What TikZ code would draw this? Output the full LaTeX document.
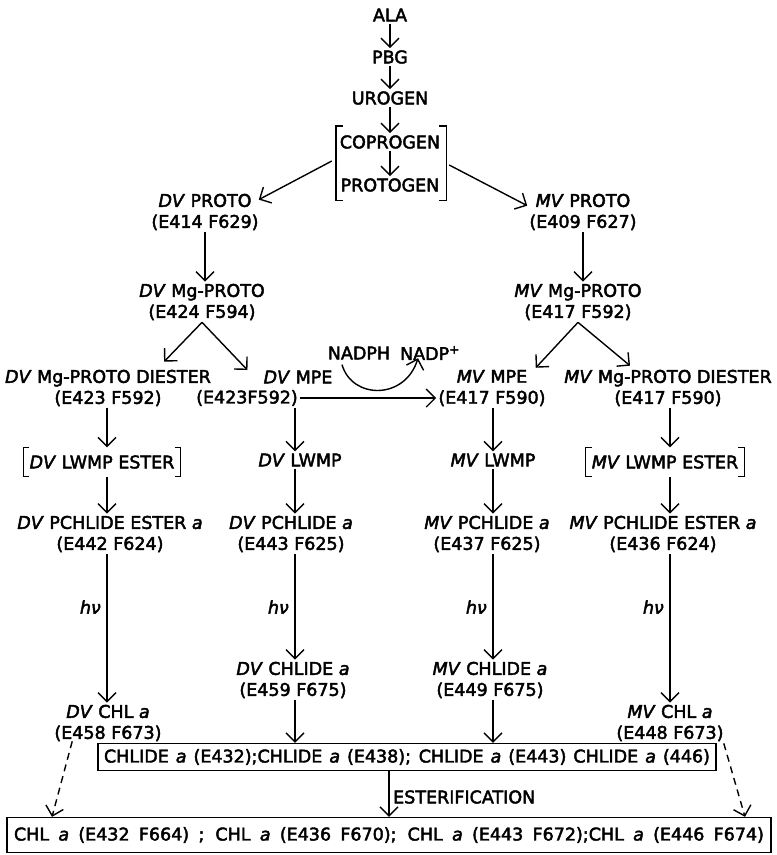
\documentclass[tikz,border=0pt]{standalone}
\usepackage{fontspec}
\setmainfont{DejaVu Sans}[FakeBold=2.5]
\usetikzlibrary{arrows.meta}
\begin{document}
\begin{tikzpicture}[x=1pt,y=-1pt,
  font=\fontsize{17.5}{21}\selectfont,
  every node/.style={inner sep=2pt, align=center},
  arr/.style={-{Straight Barb[length=9pt,width=18pt]}, line width=1.4pt},
  ln/.style={line width=1.4pt},
  brk/.style={inner xsep=6pt, minimum height=29pt},
  hvlab/.style={anchor=east},
  boxed/.style={draw, line width=1.3pt}]
\useasboundingbox (0,0) rectangle (777,855);
% column coordinates
\coordinate (c0) at (389,0);
\coordinate (c1) at (107,0);
\coordinate (c2) at (295,0);
\coordinate (c3) at (493,0);
\coordinate (c4) at (670,0);
\coordinate (cL) at (52,0);
\coordinate (cR) at (745,0);
% top chain
\node (ala) at (390,15) {ALA};
\node (pbg) at (390,57) {PBG};
\node (urogen) at (390,98) {UROGEN};
\node (coprogen) at (390,142) {COPROGEN};
\node (protogen) at (390,185) {PROTOGEN};
\node (cpgroup) [minimum width=110pt, minimum height=74pt, inner sep=0pt] at (391,163) {};
\draw[ln] ([shift={(7,0)}]cpgroup.north west) -- (cpgroup.north west) -- (cpgroup.south west) -- ([shift={(7,0)}]cpgroup.south west);
\draw[ln] ([shift={(-7,0)}]cpgroup.north east) -- (cpgroup.north east) -- (cpgroup.south east) -- ([shift={(-7,0)}]cpgroup.south east);
\draw[arr] (ala) -- (pbg);
\draw[arr] (pbg) -- (urogen);
\draw[arr] (urogen) -- (coprogen);
\draw[arr] (coprogen) -- (protogen);
% protos
\node (dvproto) at (205,212) {\textit{DV} PROTO\\(E414 F629)};
\node (mvproto) at (583,212) {\textit{MV} PROTO\\(E409 F627)};
\draw[arr] ([shift={(-4,-2)}]cpgroup.west) -- ([shift={(-2,8)}]dvproto.north east);
\draw[arr] ([shift={(3,2)}]cpgroup.east) -- ([shift={(0,14)}]mvproto.north west);
\node (dvmgproto) at (202,302) {\textit{DV} Mg-PROTO\\(E424 F594)};
\node (mvmgproto) at (578,302) {\textit{MV} Mg-PROTO\\(E417 F592)};
\draw[arr] (dvproto.south) -- (dvproto.south |- dvmgproto.north);
\draw[arr] (mvproto.south) -- (mvproto.south |- mvmgproto.north);
% MPE row
\node (dvdiester) at (108,388) {\textit{DV} Mg-PROTO DIESTER\\(E423 F592)};
\node (dvmpe) at (298,377) {\textit{DV} MPE};
\node (dvmpeid) at (247,398) {(E423F592)};
\node (mvmpe) at (492,388) {\textit{MV} MPE\\(E417 F590)};
\node (mvdiester) at (668,388) {\textit{MV} Mg-PROTO DIESTER\\(E417 F590)};
\draw[arr] (dvmgproto.south) -- ([shift={(-49,-6)}]dvdiester.north east);
\draw[arr] (dvmgproto.south) -- ([shift={(-14,-7)}]dvmpe.west);
\draw[arr] (mvmgproto.south) -- ([shift={(-12,0)}]mvmpe.north east);
\draw[arr] (mvmgproto.south) -- ([shift={(-38,-2)}]mvdiester.north);
\draw[arr] (dvmpeid.east) -- (dvmpeid.east -| mvmpe.west);
\node (nadph) at (359,353) {NADPH};
\node (nadp) at (430,353) {NADP\textsuperscript{+}};
\draw[arr] ([shift={(-17,3)}]nadph.south) .. controls +(10,35) and +(-13,42) .. ([shift={(-12,-4)}]nadp.south);
% LWMP row
\node[brk] (dvlwmpe) at (102,462) {\textit{DV} LWMP ESTER};
\draw[ln] ([shift={(6,0)}]dvlwmpe.north west) -- (dvlwmpe.north west) -- (dvlwmpe.south west) -- ([shift={(6,0)}]dvlwmpe.south west);
\draw[ln] ([shift={(-6,0)}]dvlwmpe.north east) -- (dvlwmpe.north east) -- (dvlwmpe.south east) -- ([shift={(-6,0)}]dvlwmpe.south east);
\node (dvlwmp) at (300,460) {\textit{DV} LWMP};
\node (mvlwmp) at (493,460) {\textit{MV} LWMP};
\node[brk] (mvlwmpe) at (665,462) {\textit{MV} LWMP ESTER};
\draw[ln] ([shift={(6,0)}]mvlwmpe.north west) -- (mvlwmpe.north west) -- (mvlwmpe.south west) -- ([shift={(6,0)}]mvlwmpe.south west);
\draw[ln] ([shift={(-6,0)}]mvlwmpe.north east) -- (mvlwmpe.north east) -- (mvlwmpe.south east) -- ([shift={(-6,0)}]mvlwmpe.south east);
\draw[arr] (dvdiester.south -| c1) -- (dvlwmpe.north -| c1);
\draw[arr] (dvmpeid.south -| c2) -- (dvlwmp.north -| c2);
\draw[arr] (mvmpe.south -| c3) -- (mvlwmp.north -| c3);
\draw[arr] (mvdiester.south -| c4) -- (mvlwmpe.north -| c4);
% PCHLIDE row
\node (dvpche) at (110,534) {\textit{DV} PCHLIDE ESTER \textit{a}\\(E442 F624)};
\node (dvpch) at (291,534) {\textit{DV} PCHLIDE \textit{a}\\(E443 F625)};
\node (mvpch) at (487,534) {\textit{MV} PCHLIDE \textit{a}\\(E437 F625)};
\node (mvpche) at (663,534) {\textit{MV} PCHLIDE ESTER \textit{a}\\(E436 F624)};
\draw[arr] (dvlwmpe.south -| c1) -- (dvpche.north -| c1);
\draw[arr] (dvlwmp.south -| c2) -- (dvpch.north -| c2);
\draw[arr] (mvlwmp.south -| c3) -- (mvpch.north -| c3);
\draw[arr] (mvlwmpe.south -| c4) -- (mvpche.north -| c4);
% CHLIDE / CHL
\node (dvchlide) at (293,680) {\textit{DV} CHLIDE \textit{a}\\(E459 F675)};
\node (mvchlide) at (490,680) {\textit{MV} CHLIDE \textit{a}\\(E449 F675)};
\node (dvchl) at (108,723) {\textit{DV} CHL \textit{a}\\(E458 F673)};
\node (mvchl) at (670,723) {\textit{MV} CHL \textit{a}\\(E448 F673)};
\draw[arr] (dvpche.south -| c1) -- (dvchl.north -| c1);
\draw[arr] (dvpch.south -| c2) -- (dvchlide.north -| c2);
\draw[arr] (mvpch.south -| c3) -- (mvchlide.north -| c3);
\draw[arr] (mvpche.south -| c4) -- (mvchl.north -| c4);
\node[hvlab] (hv1) at (103,607) {\textit{hν}};
\node[hvlab] (hv2) at (291,607) {\textit{hν}};
\node[hvlab] (hv3) at (489,607) {\textit{hν}};
\node[hvlab] (hv4) at (666,607) {\textit{hν}};
% boxes
\node[boxed, inner xsep=6pt, minimum height=27pt] (chlidebox) at (407,757) {\makebox[606pt][s]{CHLIDE \textit{a} (E432);CHLIDE \textit{a} (E438); CHLIDE \textit{a} (E443) CHLIDE \textit{a} (446)}};
\node[boxed, inner xsep=7pt, minimum height=35pt] (chlbox) at (389,835) {\makebox[750pt][s]{CHL \textit{a} (E432 F664) ; CHL \textit{a} (E436 F670); CHL \textit{a} (E443 F672);CHL \textit{a} (E446 F674)}};
\draw[arr] (dvchlide.south -| c2) -- (chlidebox.north -| c2);
\draw[arr] (mvchlide.south -| c3) -- (chlidebox.north -| c3);
\draw[arr] (chlidebox.south -| c0) -- (chlbox.north -| c0);
\node[anchor=west] (ester) at (391,797) {ESTERIFICATION};
\draw[arr, dash pattern=on 7pt off 5pt] ([shift={(20,-2)}]dvchl.south west) -- (chlbox.north -| cL);
\draw[arr, dash pattern=on 7pt off 5pt] ([shift={(-2,0)}]mvchl.south east) -- (chlbox.north -| cR);
\end{tikzpicture}
\end{document}
